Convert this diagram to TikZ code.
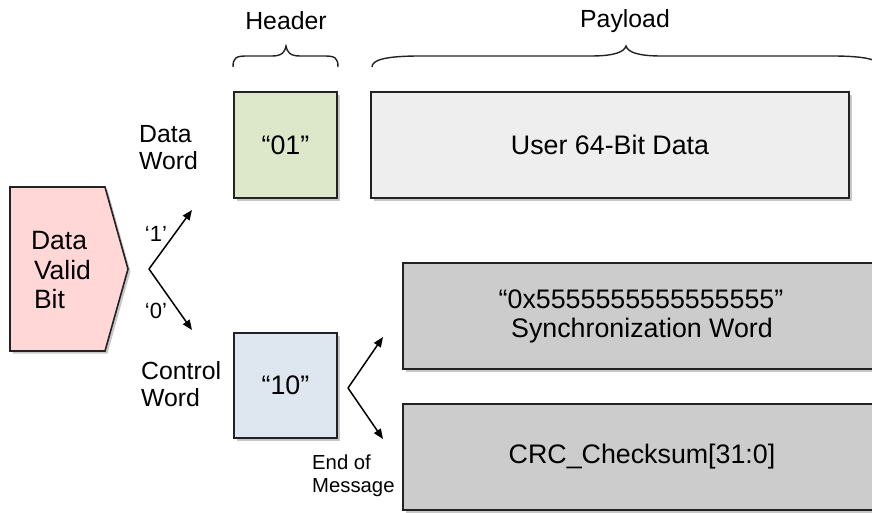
\documentclass[tikz,border=0pt]{standalone}
\usepackage{fontspec}
\setmainfont{Liberation Sans}
\usetikzlibrary{arrows.meta,shadows}
\definecolor{cpink}{HTML}{FFD7D7}
\definecolor{cgreen}{HTML}{DDE8CB}
\definecolor{cblue}{HTML}{DEE6EF}
\definecolor{clight}{HTML}{EEEEEE}
\definecolor{cgrey}{HTML}{CCCCCC}
\definecolor{cline}{HTML}{222222}
\tikzset{
  shade/.style={drop shadow={shadow xshift=2.5pt, shadow yshift=-2.5pt, opacity=0.22, fill=black}},
  field/.style={draw=cline, line width=1.6pt, shade, inner sep=0pt, align=center,
    font=\fontsize{26.8}{30}\selectfont},
  caption/.style={font=\fontsize{24.8}{27}\selectfont, align=left, inner sep=0pt},
  small/.style={font=\fontsize{20.3}{23}\selectfont, align=left, inner sep=0pt},
  bitlabel/.style={font=\fontsize{22}{24}\selectfont, inner sep=0pt},
  flow/.style={line width=1.5pt, -{Triangle[length=10pt,width=8pt]}},
  brace/.style={line width=1.4pt, cline},
}
\begin{document}
\begin{tikzpicture}[x=1pt, y=-1pt]
\useasboundingbox (0,0) rectangle (872,512);
\clip (0,0) rectangle (872,512);

% input pentagon
\draw[fill=cpink, draw=cline, line width=1.6pt, shade]
  (10,187) -- (105,187) -- (128,269) -- (105,351) -- (10,351) -- cycle;
\node[caption, font=\fontsize{26.5}{29.5}\selectfont] (dvb) at (61,270) {Data\\\hspace{3pt}Valid\\\hspace{3pt}Bit};

% section titles and braces
\node[caption] (hdrlbl) at (286,21) {Header};
\node[caption] (paylbl) at (625,21) {Payload};
\draw[brace] (233,67) .. controls (233,58) and (236,56) .. (246,56) -- (272,56)
  .. controls (282,56) and (285,52) .. (286,46)
  .. controls (287,52) and (290,56) .. (300,56) -- (325,56)
  .. controls (335,56) and (338,58) .. (338,67);
\draw[brace] (372,67) .. controls (372,60) and (385,56) .. (420,56) -- (590,56)
  .. controls (615,56) and (624,52) .. (626,46)
  .. controls (628,52) and (637,56) .. (662,56) -- (832,56)
  .. controls (867,56) and (880,60) .. (880,67);

% data word row
\node[field, fill=cgreen, minimum width=103, minimum height=106] (hd1) at (285.5,145) {“01”};
\node[field, fill=clight, minimum width=478, minimum height=106] (data) at (610,145) {User 64-Bit Data};
\node[caption, anchor=west] (dw) at (139,148) {Data\\Word};

% control word row
\node[field, fill=cblue, minimum width=103, minimum height=105] (hd0) at (285.5,385.5) {“10”};
\node[caption, anchor=west] (cw) at (141,384) {Control\\Word};
\node[field, fill=cgrey, minimum width=478, minimum height=106] (sync) at (642,316)
  {\hspace*{-2pt}“0x5555555555555555”\\[-1pt]Synchronization Word};
\node[field, fill=cgrey, minimum width=478, minimum height=106] (crc) at (642,457) {CRC\_Checksum[31:0]};
\node[small, anchor=west] (eom) at (312,476) {End of\\Message};

% branch on the valid bit
\coordinate (fk1) at (149,269);
\coordinate (to1) at (192,210);
\coordinate (to0) at (192,330);
\draw[flow] (fk1) -- (to1);
\draw[flow] (fk1) -- (to0);
\node[bitlabel] (one) at (156,234) {‘1’};
\node[bitlabel] (zero) at (156,311) {‘0’};

% branch after the control header
\coordinate (fk2) at (348,388);
\coordinate (tosync) at (383,337);
\coordinate (tocrc) at (383,439);
\draw[flow] (fk2) -- (tosync);
\draw[flow] (fk2) -- (tocrc);
\end{tikzpicture}
\end{document}
